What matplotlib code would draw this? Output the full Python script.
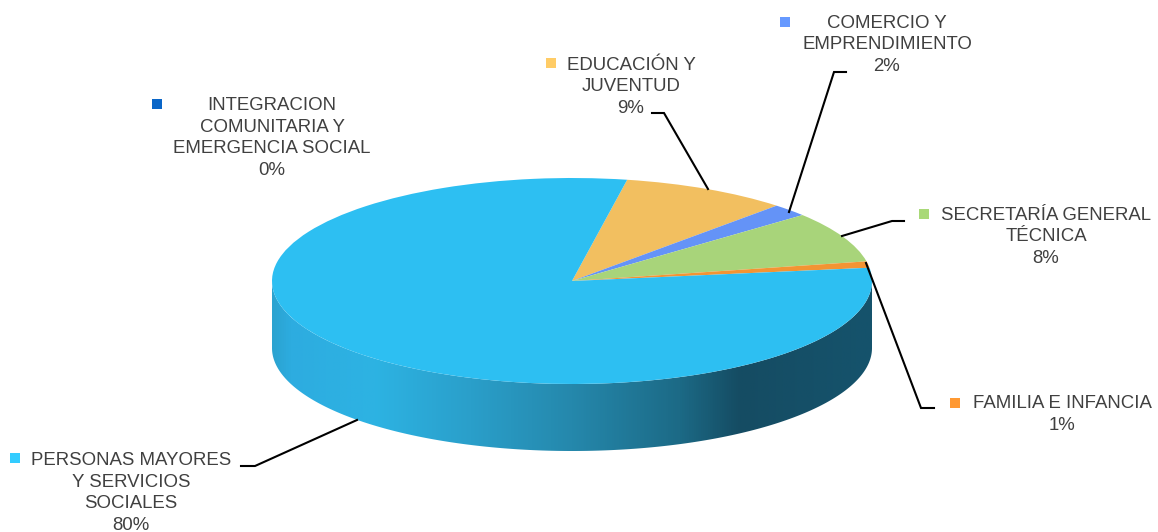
import numpy as np
import matplotlib
matplotlib.use('Agg')
import matplotlib.pyplot as plt
from matplotlib.colors import LinearSegmentedColormap
from matplotlib.patches import Polygon

plt.rcParams['font.family'] = ['Liberation Sans', 'DejaVu Sans']

# Slices, clockwise from the top
categories = [
    ['EDUCACIÓN Y', 'JUVENTUD'],
    ['COMERCIO Y', 'EMPRENDIMIENTO'],
    ['SECRETARÍA GENERAL', 'TÉCNICA'],
    ['FAMILIA E INFANCIA'],
    ['PERSONAS MAYORES', 'Y SERVICIOS', 'SOCIALES'],
    ['INTEGRACION', 'COMUNITARIA Y', 'EMERGENCIA SOCIAL'],
]
values = [9, 2, 8, 1, 80, 0]

slice_colors = ['#f2bf60', '#6493f7', '#a8d47a', '#f39433', '#2dbff2', '#0a66c8']
key_colors = ['#ffcc66', '#6699ff', '#a9d978', '#ff9933', '#33ccff', '#0a66c8']

# Label centre x, first line y, key square x and y, in pixels
label_pos = [
    (631, 65, 551, 63),
    (887, 23, 785, 22),
    (1046, 215, 924, 214),
    (1062, 404, 955, 403),
    (131, 460.5, 15, 458),
    (272, 105.5, 157, 104),
]

# Leader lines from the pie to each label
leaders = [
    [(708, 189), (664, 113), (652, 113)],
    [(789, 212), (834, 72), (846, 72)],
    [(842, 236), (892, 221), (904, 221)],
    [(866, 263), (921, 408), (934, 408)],
    [(357, 420), (255, 466), (241, 466)],
]

W, H = 1158, 532
cx, cy = 572, 281
rx, ry = 300, 103
depth = 67

fig = plt.figure(figsize=(W / 100, H / 100), dpi=100, facecolor='white')

# Background axes works in pixels with y pointing down
bg = fig.add_axes([0, 0, 1, 1])
bg.set_xlim(0, W)
bg.set_ylim(H, 0)
bg.axis('off')

# Side wall of the disc, shaded left to right
t = np.linspace(0, np.pi, 300)
rim_x = cx + rx * np.cos(t)
rim_y = cy + ry * np.sin(t)
wall = np.vstack([
    np.column_stack([rim_x, rim_y + depth]),
    np.column_stack([rim_x[::-1], rim_y[::-1]]),
])
wall_patch = Polygon(wall, closed=True, facecolor='none', edgecolor='none')
bg.add_patch(wall_patch)
wall_cmap = LinearSegmentedColormap.from_list('wall', [
    (0.00, '#2ba3d0'),
    (0.03, '#2dace0'),
    (0.17, '#2db3e3'),
    (0.33, '#2a9fca'),
    (0.50, '#2588ac'),
    (0.68, '#1c6a86'),
    (0.78, '#154c63'),
    (1.00, '#15536c'),
])
img = bg.imshow(np.linspace(0, 1, 512).reshape(1, -1), cmap=wall_cmap, aspect='auto',
                extent=(cx - rx, cx + rx, cy + ry + depth, cy - ry), zorder=1)
img.set_clip_path(wall_patch)
bg.set_xlim(0, W)
bg.set_ylim(H, 0)

# Top face: a unit pie stretched into an ellipse
ax_pie = fig.add_axes([(cx - rx) / W, 1 - (cy + ry) / H, 2 * rx / W, 2 * ry / H])
ax_pie.pie(values, colors=slice_colors, startangle=79.4, counterclock=False,
           wedgeprops={'linewidth': 0})
ax_pie.set_aspect('auto')
ax_pie.set_xlim(-1, 1)
ax_pie.set_ylim(-1, 1)
ax_pie.axis('off')

# Overlay for leaders and labels
top = fig.add_axes([0, 0, 1, 1])
top.set_xlim(0, W)
top.set_ylim(H, 0)
top.axis('off')
top.patch.set_alpha(0)

for pts in leaders:
    xs, ys = zip(*pts)
    top.plot(xs, ys, color='black', lw=1.5, solid_joinstyle='miter')

line_step = 21.7
for name, val, pos, key in zip(categories, values, label_pos, key_colors):
    x, y, kx, ky = pos
    for i, line in enumerate(name + [f'{val}%']):
        top.text(x, y + i * line_step, line, ha='center', va='center',
                 fontsize=13.4, color='#404040')
    top.plot(kx, ky, marker='s', ms=7, mew=0, color=key, ls='none')

fig.savefig('out.png', dpi=100)
